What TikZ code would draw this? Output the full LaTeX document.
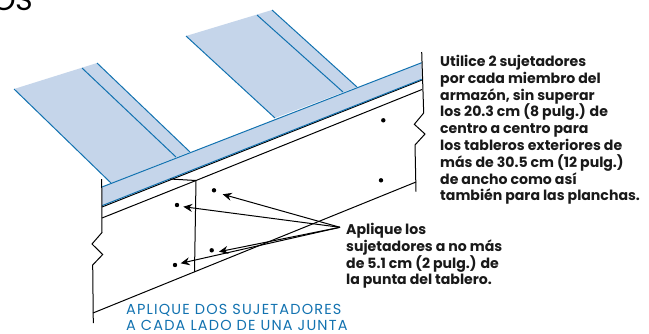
\documentclass[tikz,border=0pt]{standalone}
\usepackage{fontspec}
\setmainfont{Poppins}
\newfontfamily\capfont[LetterSpace=8]{Poppins}
\usetikzlibrary{arrows.meta}
\definecolor{sheet}{HTML}{C5D5EA}
\definecolor{trim}{HTML}{1272B0}
\tikzset{
  edge/.style={draw=black,line width=1pt,line join=miter},
  blue edge/.style={draw=trim,line width=1pt},
  fastener/.style={circle,fill=black,inner sep=0pt,minimum size=4.4pt},
  pointer/.style={draw=black,line width=1pt,-{Stealth[length=9pt,width=8pt,inset=3pt]}},
  note/.style={anchor=north west,align=left,font=\fontsize{14.1pt}{16.8pt}\selectfont\bfseries,inner sep=0pt,text=black!90},
  caption/.style={anchor=north west,align=left,font=\capfont\fontsize{14.5pt}{16.2pt}\selectfont,inner sep=0pt,text=trim}
}
\begin{document}
\begin{tikzpicture}[x=1pt,y=-1pt]
\useasboundingbox (0,0) rectangle (649,333);
% sheets
\fill[sheet] (14,89) -- (97,63) -- (190,152) -- (111,183) -- cycle;
\fill[sheet] (186,36) -- (272,10) -- (357,87) -- (275,118) -- cycle;
\fill[sheet] (102,187) -- (421.7,62.7) -- (421.7,79.3) -- (102,205.7) -- cycle;
\coordinate (a1) at (14,89); \coordinate (a2) at (111,183);
\coordinate (b1) at (82,68); \coordinate (b2) at (176,157);
\coordinate (c1) at (97,63); \coordinate (c2) at (190,152);
\coordinate (d1) at (186,36); \coordinate (d2) at (275,118);
\coordinate (e1) at (257,15); \coordinate (e2) at (343,92);
\coordinate (f1) at (272,10); \coordinate (f2) at (357,87);
\foreach \p/\q in {a1/a2,b1/b2,c1/c2,d1/d2,e1/e2,f1/f2}{\draw[blue edge] (\p) -- (\q);}
\coordinate (bandL) at (102,187); \coordinate (bandR) at (421.7,62.7);
\coordinate (bandLb) at (102,205.7); \coordinate (bandRb) at (421.7,79.3);
\draw[blue edge] (bandL) -- (bandR);
\draw[edge] (102,207) -- (422,80);
\draw[blue edge] (bandLb) -- (bandRb);
% framing
\draw[edge] (102,218) -- (196,180.5) -- (422,89.5);
\draw[edge] (170,179) -- (196,180.5) -- (194.5,272);
\draw[edge] (93,313) -- (416,182);
\draw[edge] (101.7,179) -- (102,232.5) -- (92,244) -- (102.7,254.5) -- (92.7,265) -- (93.3,323);
\draw[edge] (421.7,52) -- (423.7,113) -- (414.3,124.3) -- (425,134) -- (415,145) -- (416,191.7);
% fasteners
\node[fastener] (n1) at (383.3,120.3) {};
\node[fastener] (n2) at (381,180.3) {};
\node[fastener] (n3) at (214,190.3) {};
\node[fastener] (n4) at (177,205) {};
\node[fastener] (n5) at (211.7,250.3) {};
\node[fastener] (n6) at (175,265) {};
% pointers
\coordinate (src) at (340,227.3);
\draw[pointer] (src) -- (222.7,194.3);
\draw[pointer] (src) -- (183.3,206.7);
\draw[pointer] (src) -- (219,251.7);
\draw[pointer] (src) -- (180.7,263.3);
% text
\node[note] (t1) at (440,55) {Utilice 2 sujetadores\\por cada miembro del\\armazón, sin superar\\los 20.3 cm (8 pulg.) de\\centro a centro para\\los tableros exteriores de\\más de 30.5 cm (12 pulg.)\\de ancho como así\\también para las planchas.};
\node[note] (t2) at (346,223) {Aplique los\\sujetadores a no más\\de 5.1 cm (2 pulg.) de\\la punta del tablero.};
\node[caption] (t3) at (126,304) {APLIQUE DOS SUJETADORES\\A CADA LADO DE UNA JUNTA};
\node[anchor=base west,inner sep=0pt,font=\fontsize{30pt}{30pt}\selectfont] (t4) at (-8,10) {OS};
\end{tikzpicture}
\end{document}
